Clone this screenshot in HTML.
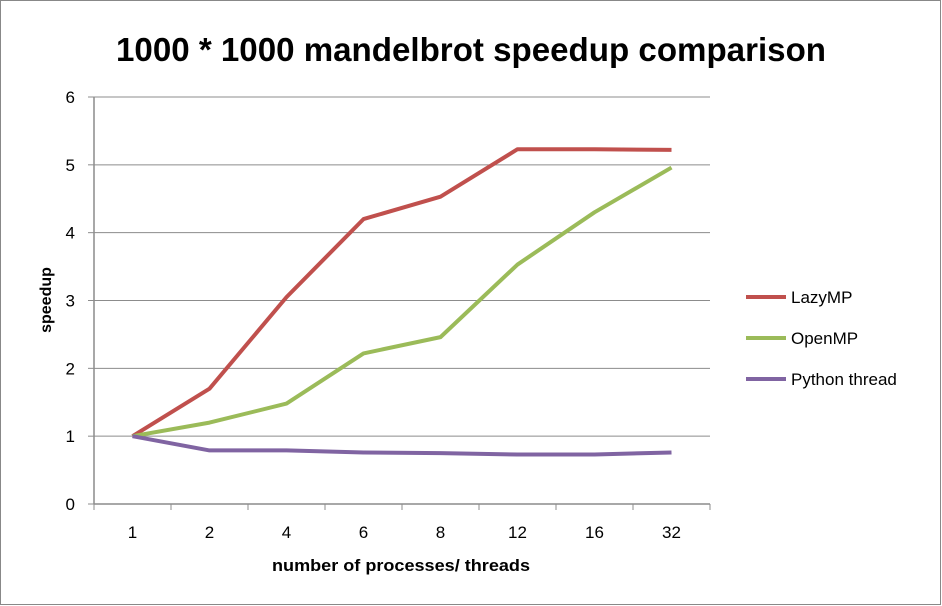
<!DOCTYPE html>
<html><head><meta charset="utf-8"><style>
html,body{margin:0;padding:0;background:#fff;}
svg{display:block;font-family:"Liberation Sans",sans-serif;}
</style></head><body>
<svg id="chart" width="942" height="606" viewBox="0 0 942 606">
<rect x="0.5" y="0.5" width="940" height="604" fill="#fff" stroke="#888"/>
<text x="471" y="61" text-anchor="middle" font-size="33" font-weight="bold" fill="#000" textLength="710" lengthAdjust="spacingAndGlyphs">1000 * 1000 mandelbrot speedup comparison</text>
<g id="grid"></g><g id="axes"></g><g id="series"></g>
<text x="0" y="0" transform="translate(51,300) rotate(-90)" text-anchor="middle" font-size="16" font-weight="bold">speedup</text>
<text x="401" y="571" text-anchor="middle" font-size="17" font-weight="bold" textLength="258" lengthAdjust="spacingAndGlyphs">number of processes/ threads</text>
<g id="legend"></g>
</svg>
<script>
const categories=["1","2","4","6","8","12","16","32"];
const lazyMP=[1,1.7,3.05,4.2,4.53,5.23,5.23,5.22];
const openMP=[1,1.2,1.48,2.22,2.46,3.53,4.3,4.96];
const pythonThread=[1,0.79,0.79,0.76,0.75,0.73,0.73,0.76];
const yTicks=[0,1,2,3,4,5,6];
const seriesNames=["LazyMP","OpenMP","Python thread"];
const NS="http://www.w3.org/2000/svg";
const L=94,R=710,T=97,B=504,yMax=6;
const bw=(R-L)/categories.length;
const xs=i=>L+bw*(i+0.5);
const ys=v=>B-(v/yMax)*(B-T);
function mk(tag,attrs,parent){const e=document.createElementNS(NS,tag);for(const k in attrs)e.setAttribute(k,attrs[k]);parent.appendChild(e);return e;}
const grid=document.getElementById('grid'),axes=document.getElementById('axes');
yTicks.forEach(v=>{
 if(v>0){const g=mk('line',{x1:L,x2:R,y1:ys(v),y2:ys(v),stroke:'#8c8c8c','stroke-width':1},grid);
 
 }
 mk('line',{x1:L-6,x2:L,y1:ys(v),y2:ys(v),stroke:'#8c8c8c'},axes);
 const t=mk('text',{x:L-19,y:ys(v)+6,'text-anchor':'end','font-size':17},axes);t.textContent=v;
 
 
});
const ya=mk('line',{x1:L,x2:L,y1:T,y2:B,stroke:'#8c8c8c','stroke-width':1.5},axes);


const xa=mk('line',{x1:L,x2:R,y1:B,y2:B,stroke:'#8c8c8c','stroke-width':1.5},axes);


for(let i=0;i<=categories.length;i++)mk('line',{x1:L+bw*i,x2:L+bw*i,y1:B,y2:B+6,stroke:'#8c8c8c'},axes);
categories.forEach((c,i)=>{const t=mk('text',{x:xs(i),y:538,'text-anchor':'middle','font-size':17},axes);t.textContent=c;
 
 });
const colors=["#c0504d","#9bbb59","#8064a2"];
const data=[lazyMP,openMP,pythonThread];
const sg=document.getElementById('series'),lg=document.getElementById('legend');
data.forEach((d,k)=>{
 const p=mk('polyline',{points:d.map((v,i)=>xs(i)+','+ys(v)).join(' '),fill:'none',stroke:colors[k],'stroke-width':4,'stroke-linejoin':'round'},sg);
 
 
 const ly=297+k*41;
 const ll=mk('line',{x1:746,x2:786,y1:ly,y2:ly,stroke:colors[k],'stroke-width':4},lg);
 
 
 const lt=mk('text',{x:791,y:ly+6,'font-size':17},lg);lt.textContent=seriesNames[k];
 
 
});
</script>
</body></html>
